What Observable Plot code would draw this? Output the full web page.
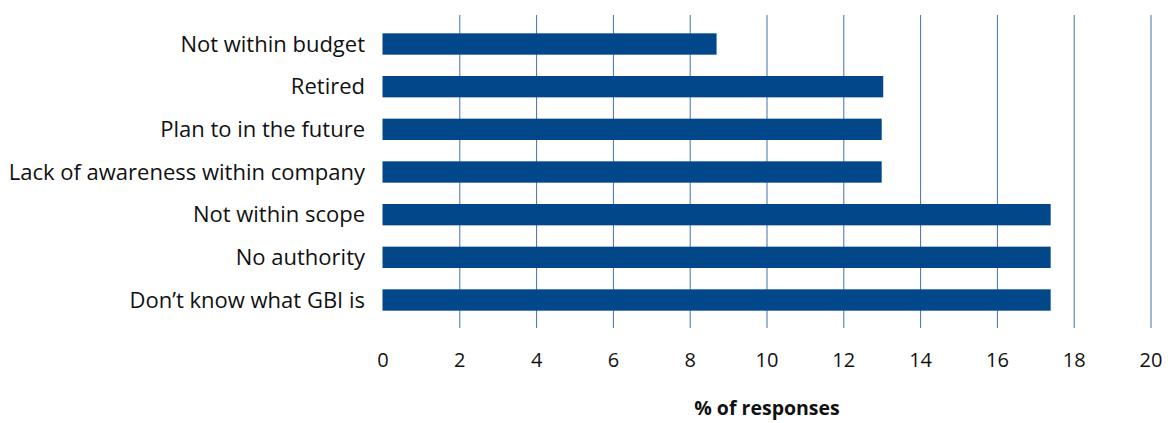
<!DOCTYPE html>
<html><head><meta charset="utf-8">
<script src="https://cdn.jsdelivr.net/npm/d3@7"></script>
<script src="https://cdn.jsdelivr.net/npm/@observablehq/plot@0.6"></script>
<style>body{margin:0;background:#fff;} svg{display:block;}</style>
</head><body><div id="chart"></div>
<script>
const categories = ["Not within budget","Retired","Plan to in the future","Lack of awareness within company","Not within scope","No authority","Don’t know what GBI is"];
const values = [8.7, 13.04, 13.0, 13.0, 17.4, 17.4, 17.4];
const xTicks = [0,2,4,6,8,10,12,14,16,18,20];
const gridTicks = [2,4,6,8,10,12,14,16,18,20];
const axisTitle = "% of responses";
const data = categories.map((c,i)=>({category:c, value:values[i]}));
const font = "'Open Sans', Lato, sans-serif";
const chart = Plot.plot({
  width: 1168, height: 423,
  marginLeft: 382.5, marginRight: 17.5, marginTop: 12, marginBottom: 91,
  style: {fontFamily: font, fontSize: "20px", color: "#111", background: "#fff"},
  x: {domain: [0,20], ticks: xTicks},
  y: {domain: categories, padding: 0.5, round: false},
  marks: [
    Plot.gridX(gridTicks, {stroke: "#1f5a99", strokeOpacity: 0.85, strokeWidth: 1, insetTop: 3, insetBottom: 4}),
    Plot.barX(data, {x: "value", y: "category", fill: "#02478a"}),
    Plot.axisX({ticks: xTicks, tickSize: 0, tickPadding: 20, label: null, fontSize: 20}),
    Plot.axisY({tickSize: 0, tickPadding: 18, label: null, fontSize: 22}),
    Plot.text([axisTitle], {frameAnchor: "bottom", dy: 82, fontWeight: "bold", fontSize: 19.5, fill: "#111"})
  ]
});
document.getElementById("chart").appendChild(chart);
</script></body></html>
